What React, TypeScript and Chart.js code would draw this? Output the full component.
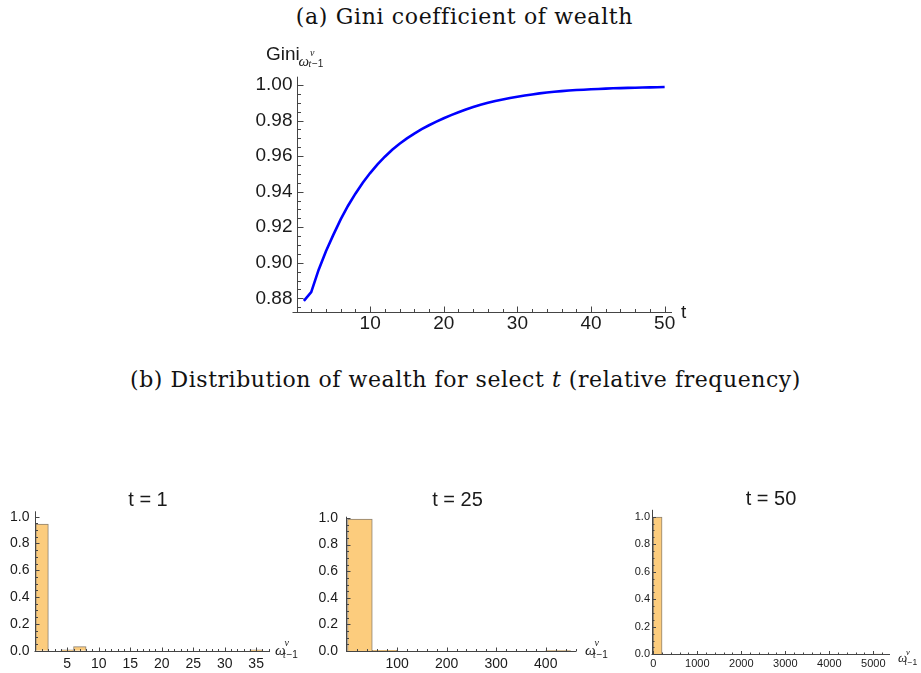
import React, { useEffect, useRef } from "react";
import { Chart, registerables } from "chart.js";

Chart.register(...registerables);

// ---------- (a) Gini coefficient of wealth ----------
const periods = [
  1, 2, 3, 4, 5, 6, 7, 8, 9, 10, 11, 12, 13, 14, 15, 16, 17, 18, 19, 20, 21, 22, 23, 24, 25,
  26, 27, 28, 29, 30, 31, 32, 33, 34, 35, 36, 37, 38, 39, 40, 41, 42, 43, 44, 45, 46, 47, 48, 49, 50,
];
const gini = [
  0.8786, 0.8835, 0.896, 0.9065, 0.9157, 0.9244, 0.9321, 0.9389, 0.945, 0.9505,
  0.9554, 0.9597, 0.9636, 0.967, 0.97, 0.9727, 0.9752, 0.9774, 0.9794, 0.9813,
  0.9831, 0.9847, 0.9862, 0.9876, 0.9889, 0.99, 0.991, 0.9919, 0.9927, 0.9934,
  0.9941, 0.9947, 0.9953, 0.9958, 0.9962, 0.9966, 0.9969, 0.9972, 0.9974, 0.9976,
  0.9978, 0.998, 0.9982, 0.9983, 0.9984, 0.9985, 0.9986, 0.9987, 0.9988, 0.9989,
];
const giniYTicks = [0.88, 0.9, 0.92, 0.94, 0.96, 0.98, 1.0];
const giniXTicks = [10, 20, 30, 40, 50];

// ---------- (b) wealth histograms (relative frequency per bin) ----------
const hist1Title = "t = 1";
const hist1BinStart = [0, 2, 4, 6, 8, 10, 12, 14, 16, 18, 20, 22, 24, 26, 28, 30, 32, 34];
const hist1Freq = [0.945, 0, 0.007, 0.03, 0, 0, 0, 0, 0, 0, 0, 0, 0, 0, 0, 0, 0, 0.007];
const hist1BinWidth = 2;
const hist1XTicks = [5, 10, 15, 20, 25, 30, 35];

const hist25Title = "t = 25";
const hist25BinStart = [0, 50, 100, 150, 200, 250, 300, 350, 400];
const hist25Freq = [0.992, 0.005, 0, 0, 0, 0, 0, 0, 0.003];
const hist25BinWidth = 50;
const hist25XTicks = [100, 200, 300, 400];

const hist50Title = "t = 50";
const hist50BinStart = [
  0, 200, 400, 600, 800, 1000, 1200, 1400, 1600, 1800, 2000, 2200, 2400, 2600, 2800,
  3000, 3200, 3400, 3600, 3800, 4000, 4200, 4400, 4600, 4800, 5000,
];
const hist50Freq = [
  0.998, 0, 0, 0, 0, 0, 0, 0, 0, 0, 0, 0, 0, 0, 0, 0, 0, 0, 0, 0, 0, 0, 0, 0, 0, 0.002,
];
const hist50BinWidth = 200;
const hist50XTicks = [0, 1000, 2000, 3000, 4000, 5000];

const freqTicks = [0, 0.2, 0.4, 0.6, 0.8, 1.0];

// ---------- helpers ----------
const AXIS = "#454545";
const LABEL = "#1a1a1a";
const SANS = "'Liberation Sans', Arial, sans-serif";
const SERIF = "'Liberation Serif', 'Times New Roman', serif";
const BAR_FILL = "rgb(252, 204, 125)";
const BAR_EDGE = "rgb(140, 128, 112)";

function stepsBetween(from: number, to: number, step: number, skipEvery: number) {
  const out: number[] = [];
  const n = Math.round((to - from) / step);
  for (let i = 0; i <= n; i++) {
    const v = +(from + i * step).toFixed(6);
    const k = Math.round(v / skipEvery);
    if (Math.abs(v - k * skipEvery) < 1e-9) continue;
    out.push(v);
  }
  return out;
}

type Label = {
  text: string;
  font: string;
  anchorX: "left" | "right";
  dx: number;
  anchorY: "top" | "bottom";
  dy: number;
  align?: CanvasTextAlign;
};

// Mathematica-style axes: lines on the left/bottom with inward ticks
const mathAxes = {
  id: "mathAxes",
  afterDatasetsDraw(chart: any, _args: any, opts: any) {
    if (!opts || !opts.enabled) return;
    const { ctx, chartArea: a } = chart;
    const x = chart.scales.x;
    const y = chart.scales.y;
    const by = Math.round(a.bottom) + 0.5;
    const lx = Math.round(a.left) + 0.5;
    ctx.save();
    ctx.strokeStyle = AXIS;
    ctx.lineWidth = 1;
    ctx.beginPath();
    ctx.moveTo(a.left - opts.xLeftExt, by);
    ctx.lineTo(a.right, by);
    ctx.moveTo(lx, a.top);
    ctx.lineTo(lx, by);
    const vx = (vals: number[], len: number) => {
      for (const v of vals) {
        const px = Math.round(x.getPixelForValue(v)) + 0.5;
        ctx.moveTo(px, by);
        ctx.lineTo(px, by - len);
      }
    };
    const hy = (vals: number[], len: number) => {
      for (const v of vals) {
        const py = Math.round(y.getPixelForValue(v)) + 0.5;
        ctx.moveTo(lx, py);
        ctx.lineTo(lx + len, py);
      }
    };
    vx(opts.xMajor, opts.majorLen);
    vx(opts.xMinor, opts.minorLen);
    hy(opts.yMajor, opts.majorLen);
    hy(opts.yMinor, opts.minorLen);
    ctx.stroke();

    const labels: Label[] = opts.labels || [];
    ctx.fillStyle = LABEL;
    ctx.textBaseline = "alphabetic";
    for (const l of labels) {
      ctx.font = l.font;
      ctx.textAlign = l.align || "left";
      const px = (l.anchorX === "left" ? a.left : a.right) + l.dx;
      const py = (l.anchorY === "top" ? a.top : a.bottom) + l.dy;
      ctx.fillText(l.text, px, py);
    }
    ctx.restore();
  },
};

function linearAxis(p: {
  min: number;
  max: number;
  ticks: number[];
  size: number;
  horizontal: boolean;
  fontSize: number;
  padding: number;
  digits: number;
}) {
  return {
    type: "linear",
    min: p.min,
    max: p.max,
    offset: false,
    grid: { display: false, drawTicks: false, tickLength: 0 },
    border: { display: false },
    ticks: {
      autoSkip: false,
      maxRotation: 0,
      minRotation: 0,
      padding: p.padding,
      color: LABEL,
      font: { family: SANS, size: p.fontSize },
      callback: (v: number) => Number(v).toFixed(p.digits),
    },
    afterBuildTicks: (s: any) => {
      s.ticks = p.ticks.map((v) => ({ value: v }));
    },
    afterFit: (s: any) => {
      if (p.horizontal) {
        s.height = p.size;
        s.paddingLeft = 0;
        s.paddingRight = 0;
      } else {
        s.width = p.size;
        s.paddingTop = 0;
        s.paddingBottom = 0;
      }
    },
  };
}

// ω^v_{t-1} axis symbol placed relative to a chart-area corner
function omegaLabels(
  anchorX: "left" | "right",
  anchorY: "top" | "bottom",
  big: number,
  small: number,
  dx: number,
  dyBase: number,
  dySup: number,
  dySub: number,
  subDx: number
): Label[] {
  return [
    { text: "ω", font: `italic ${big}px ${SERIF}`, anchorX, dx, anchorY, dy: dyBase },
    { text: "v", font: `italic ${small}px ${SERIF}`, anchorX, dx: dx + subDx + 1, anchorY, dy: dySup },
    { text: "t", font: `italic ${small}px ${SERIF}`, anchorX, dx: dx + subDx - 0.5, anchorY, dy: dySub },
    { text: "−1", font: `${small}px ${SANS}`, anchorX, dx: dx + subDx + small * 0.3, anchorY, dy: dySub },
  ];
}

function giniConfig(): any {
  return {
    type: "line",
    data: {
      datasets: [
        {
          data: periods.map((t, i) => ({ x: t, y: gini[i] })),
          borderColor: "#0000ff",
          borderWidth: 2.6,
          pointRadius: 0,
          tension: 0,
          fill: false,
        },
      ],
    },
    options: {
      animation: false,
      responsive: false,
      devicePixelRatio: 1,
      layout: { padding: { left: 0, top: 41.7, right: 28, bottom: 0 } },
      plugins: {
        legend: { display: false },
        tooltip: { enabled: false },
        mathAxes: {
          enabled: true,
          xLeftExt: 4,
          majorLen: 6,
          minorLen: 3.5,
          xMajor: giniXTicks,
          xMinor: stepsBetween(2, 50, 2, 10),
          yMajor: giniYTicks,
          yMinor: stepsBetween(0.875, 1.0, 0.005, 0.02),
          labels: [
            { text: "Gini", font: `19px ${SANS}`, anchorX: "left", dx: -30.5, anchorY: "top", dy: -17.2 },
            ...omegaLabels("left", "top", 15, 10, 2, -10.8, -20.5, -9.3, 10.5),
            { text: "t", font: `19px ${SANS}`, anchorX: "right", dx: 9, anchorY: "bottom", dy: 5.8 },
          ],
        },
      },
      scales: {
        x: linearAxis({ min: 0, max: 51, ticks: giniXTicks, size: 23.3, horizontal: true, fontSize: 19, padding: 1, digits: 0 }),
        y: linearAxis({ min: 0.8725, max: 1.0047, ticks: giniYTicks, size: 66.5, horizontal: false, fontSize: 19, padding: 4, digits: 2 }),
      },
    },
    plugins: [mathAxes],
  };
}

function histConfig(p: {
  starts: number[];
  freq: number[];
  width: number;
  xMin: number;
  xMax: number;
  yMax: number;
  xTicks: number[];
  xMinorStep: number;
  xMinorTo: number;
  xMajorStep: number;
  pad: { top: number; right: number };
  xSize: number;
  ySize: number;
  fontSize: number;
  xPad: number;
  yPad: number;
  majorLen: number;
  minorLen: number;
  labels: Label[];
}): any {
  return {
    type: "bar",
    data: {
      datasets: [
        {
          data: p.starts.map((s, i) => ({ x: s + p.width / 2, y: p.freq[i] })),
          backgroundColor: BAR_FILL,
          borderColor: BAR_EDGE,
          borderWidth: 1,
          borderSkipped: "start",
          barPercentage: 1,
          categoryPercentage: 1,
          grouped: false,
        },
      ],
    },
    options: {
      animation: false,
      responsive: false,
      devicePixelRatio: 1,
      layout: { padding: { left: 0, top: p.pad.top, right: p.pad.right, bottom: 0 } },
      plugins: {
        legend: { display: false },
        tooltip: { enabled: false },
        mathAxes: {
          enabled: true,
          xLeftExt: 0,
          majorLen: p.majorLen,
          minorLen: p.minorLen,
          xMajor: p.xTicks,
          xMinor: stepsBetween(p.xMinorStep, p.xMinorTo, p.xMinorStep, p.xMajorStep),
          yMajor: freqTicks,
          yMinor: stepsBetween(0.05, 1.0, 0.05, 0.2),
          labels: p.labels,
        },
      },
      scales: {
        x: linearAxis({ min: p.xMin, max: p.xMax, ticks: p.xTicks, size: p.xSize, horizontal: true, fontSize: p.fontSize, padding: p.xPad, digits: 0 }),
        y: linearAxis({ min: 0, max: p.yMax, ticks: freqTicks, size: p.ySize, horizontal: false, fontSize: p.fontSize, padding: p.yPad, digits: 1 }),
      },
    },
    plugins: [mathAxes],
  };
}

function ChartBox(props: { left: number; top: number; width: number; height: number; build: () => any }) {
  const ref = useRef<HTMLCanvasElement>(null);
  useEffect(() => {
    if (!ref.current) return;
    const chart = new Chart(ref.current, props.build());
    return () => chart.destroy();
  }, []);
  return (
    <canvas
      ref={ref}
      width={props.width}
      height={props.height}
      style={{ position: "absolute", left: props.left, top: props.top, width: props.width, height: props.height }}
    />
  );
}

const captionStyle: React.CSSProperties = {
  position: "absolute",
  left: 0,
  width: 921,
  textAlign: "center",
  fontFamily: "'DejaVu Serif', serif",
  fontSize: 22,
  letterSpacing: 0.65,
  lineHeight: "22px",
  color: "#111",
  whiteSpace: "nowrap",
};

export default function App() {
  return (
    <div style={{ position: "absolute", left: 0, top: 0, width: 921, height: 673, background: "#fff", overflow: "hidden" }}>
      <div style={{ ...captionStyle, top: 6, left: 4 }}>(a) Gini coefficient of wealth</div>
      <ChartBox left={230} top={35} width={470} height={300} build={giniConfig} />
      <div style={{ ...captionStyle, top: 369, letterSpacing: 0.55, left: 5 }}>
        (b) Distribution of wealth for select <i>t</i> (relative frequency)
      </div>
      <ChartBox
        left={0}
        top={480}
        width={310}
        height={190}
        build={() =>
          histConfig({
            starts: hist1BinStart,
            freq: hist1Freq,
            width: hist1BinWidth,
            xMin: -0.2,
            xMax: 37.2,
            yMax: 1.04,
            xTicks: hist1XTicks,
            xMinorStep: 1,
            xMinorTo: 37,
            xMajorStep: 5,
            pad: { top: 31.3, right: 40 },
            xSize: 19.3,
            ySize: 34.5,
            fontSize: 14,
            xPad: 5,
            yPad: 5,
            majorLen: 4,
            minorLen: 2.5,
            labels: [
              { text: hist1Title, font: `20px ${SANS}`, anchorX: "left", dx: 113.5, anchorY: "top", dy: -5.3, align: "center" },
              ...omegaLabels("right", "bottom", 15, 10, 5, 4.5, -5, 7, 8.5),
            ],
          })
        }
      />
      <ChartBox
        left={310}
        top={480}
        width={310}
        height={190}
        build={() =>
          histConfig({
            starts: hist25BinStart,
            freq: hist25Freq,
            width: hist25BinWidth,
            xMin: -3,
            xMax: 461,
            yMax: 1.01,
            xTicks: hist25XTicks,
            xMinorStep: 20,
            xMinorTo: 460,
            xMajorStep: 100,
            pad: { top: 36.7, right: 44 },
            xSize: 19,
            ySize: 36,
            fontSize: 14,
            xPad: 5,
            yPad: 8,
            majorLen: 4,
            minorLen: 2.5,
            labels: [
              { text: hist25Title, font: `20px ${SANS}`, anchorX: "left", dx: 111.5, anchorY: "top", dy: -10.7, align: "center" },
              ...omegaLabels("right", "bottom", 15, 10, 9, 4.3, -5.3, 6.7, 8.5),
            ],
          })
        }
      />
      <ChartBox
        left={620}
        top={480}
        width={301}
        height={193}
        build={() =>
          histConfig({
            starts: hist50BinStart,
            freq: hist50Freq,
            width: hist50BinWidth,
            xMin: -40,
            xMax: 5380,
            yMax: 1.05,
            xTicks: hist50XTicks,
            xMinorStep: 200,
            xMinorTo: 5200,
            xMajorStep: 1000,
            pad: { top: 29.8, right: 31 },
            xSize: 18.7,
            ySize: 31.5,
            fontSize: 11,
            xPad: 3.5,
            yPad: 1.5,
            majorLen: 3.5,
            minorLen: 2,
            labels: [
              { text: hist50Title, font: `20px ${SANS}`, anchorX: "left", dx: 119.5, anchorY: "top", dy: -4.8, align: "center" },
              ...omegaLabels("right", "bottom", 13, 8.5, 8, 7.7, 0.8, 10.7, 7),
            ],
          })
        }
      />
    </div>
  );
}
